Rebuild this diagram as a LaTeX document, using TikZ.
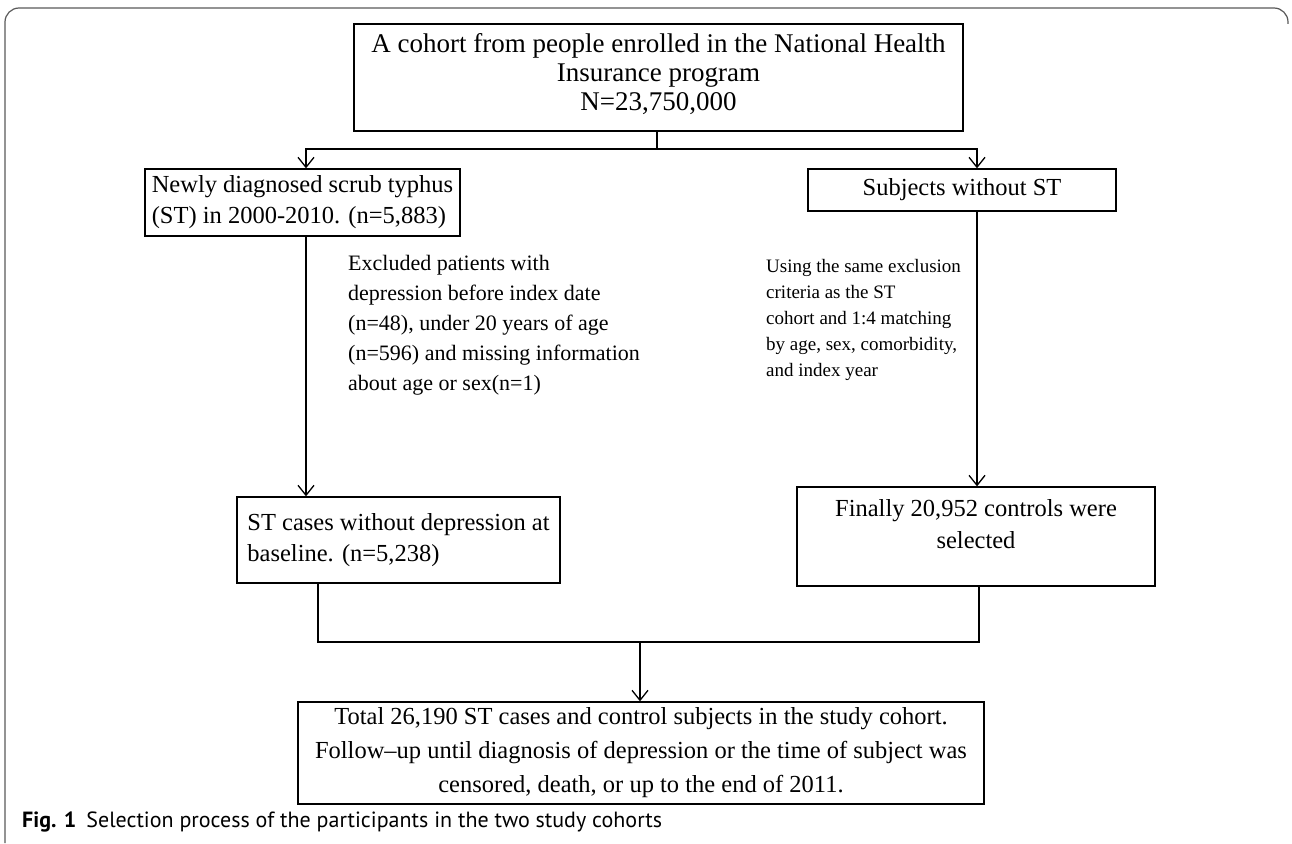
\documentclass[tikz,border=0pt]{standalone}
\usepackage{fontspec}
\setmainfont{Liberation Serif}
\newfontfamily\capfont{PT Sans}
\usetikzlibrary{arrows.meta}
\begin{document}
\begin{tikzpicture}[x=1pt,y=-1pt,
  box/.style={draw, line width=1.3pt, inner sep=0pt, font=\fontsize{24.5}{31}\selectfont},
  boxtext/.style={inner sep=0pt, align=center, font=\fontsize{24.5}{32}\selectfont},
  conn/.style={line width=1.3pt},
  arr/.style={conn,-{Straight Barb[length=10pt,width=16pt,line width=1.3pt]}},
  note/.style={anchor=north west, align=left, inner sep=0pt}]
\useasboundingbox (0,0) rectangle (1292,843);
\draw[line width=1.2pt, black!65, rounded corners=14pt] (5,843) -- (5,8) -- (1288,8) -- (1288,24);

\node[box, minimum width=609pt, minimum height=107pt] (top) at (658.5,77.5) {};
\node[boxtext, anchor=north, font=\fontsize{27}{29}\selectfont] (toptext) at ([yshift=-10pt]top.north)
  {A cohort from people enrolled in the National Health\\Insurance program\\N=23,750,000};
\node[box, minimum width=315pt, minimum height=67pt, align=left] (sd) at (302.5,202.5)
  {Newly diagnosed scrub typhus\\(ST) in 2000-2010. (n=5,883)};
\node[box, minimum width=308pt, minimum height=42pt, align=center] (ns) at (962,190)
  {Subjects without ST};
\node[box, minimum width=323pt, minimum height=86pt, align=left] (st) at (398.5,540)
  {ST cases without depression at\\baseline. (n=5,238)};
\node[box, minimum width=358pt, minimum height=99pt] (fin) at (976,536.5) {};
\node[boxtext, anchor=north] (fintext) at ([yshift=-13pt]fin.north)
  {Finally 20,952 controls were\\selected};
\node[box, minimum width=686pt, minimum height=102pt, align=center, font=\fontsize{24.5}{34}\selectfont] (bot) at (641,753)
  {Total 26,190 ST cases and control subjects in the study cohort.\\Follow--up until diagnosis of depression or the time of subject was\\censored, death, or up to the end of 2011.};

\node[note, font=\fontsize{22}{30}\selectfont] (ex) at (348,255)
  {Excluded patients with\\depression before index date\\(n=48), under 20 years of age\\(n=596) and missing information\\about age or sex(n=1)};
\node[note, font=\fontsize{19}{26}\selectfont] (us) at (766,259)
  {Using the same exclusion\\criteria as the ST\\cohort and 1:4 matching\\by age, sex, comorbidity,\\and index year};

\coordinate (j1) at (657,149);
\coordinate (jl) at (306,149);
\coordinate (jr) at (977,149);
\draw[conn] (top.south -| j1) -- (j1);
\draw[arr] (j1) -- (jl) -- (jl |- sd.north);
\draw[arr] (j1) -- (jr) -- (jr |- ns.north);
\draw[arr] (sd.south -| jl) -- (jl |- st.north);
\draw[arr] (ns.south -| jr) -- (jr |- fin.north);

\coordinate (bl) at (318,642);
\coordinate (br) at (979,642);
\coordinate (bc) at (640,642);
\draw[conn] (st.south -| bl) -- (bl) -- (br) -- (fin.south -| br);
\draw[arr] (bc) -- (bc |- bot.north);

\node[anchor=base west, inner sep=0pt, font=\capfont\fontsize{22}{24}\selectfont] (cap) at (22,827)
  {\textbf{Fig. 1}\hspace{10pt}Selection process of the participants in the two study cohorts};
\end{tikzpicture}
\end{document}
